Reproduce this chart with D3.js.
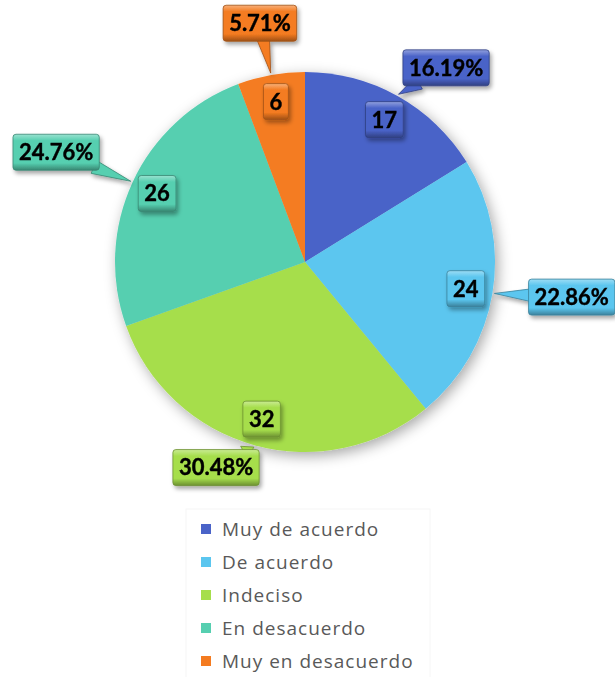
<!DOCTYPE html>
<html>
<head>
<meta charset="utf-8">
<script src="https://cdn.jsdelivr.net/npm/d3@7"></script>
<style>
  html, body { margin: 0; padding: 0; background: #fff; }
  svg { display: block; }
  .lbl { font-family: Lato, "Open Sans", sans-serif; font-weight: 700; font-size: 22px; fill: #000; stroke: #000; stroke-width: 0.4px; }
  .legend text { font-family: "Open Sans", sans-serif; font-size: 19px; fill: #595959; letter-spacing: 1px; }
</style>
</head>
<body>
<svg id="chart" width="615" height="677"></svg>
<script>
/* Pie chart with callout labels */

const categories = ['Muy de acuerdo', 'De acuerdo', 'Indeciso', 'En desacuerdo', 'Muy en desacuerdo'];
const counts = [17, 24, 32, 26, 6];
const colors = ['#4a63c8', '#5bc6ef', '#a6de4c', '#56cfb0', '#f47b20'];

// callout box placement: [angle in degrees, distance from centre]
const calloutPolar = [[36, 240], [97.5, 269], [203.4, 224], [293.8, 272], [349.3, 243]];

const width = 615, height = 677;
const cx = 305, cy = 262, radius = 190;
const total = d3.sum(counts);
const pct = d3.format('.2%');

const svg = d3.select('#chart');
const defs = svg.append('defs');

// soft shadow behind the pie
const pieShadow = defs.append('filter').attr('id', 'pie-shadow')
  .attr('x', '-20%').attr('y', '-20%').attr('width', '140%').attr('height', '140%');
pieShadow.append('feDropShadow').attr('dx', 3).attr('dy', 4).attr('stdDeviation', 7)
  .attr('flood-color', '#000').attr('flood-opacity', 0.35);

const boxShadow = defs.append('filter').attr('id', 'box-shadow')
  .attr('x', '-30%').attr('y', '-30%').attr('width', '160%').attr('height', '160%');
boxShadow.append('feDropShadow').attr('dx', 2).attr('dy', 3).attr('stdDeviation', 2)
  .attr('flood-color', '#000').attr('flood-opacity', 0.35);

// bevel gradient per colour
colors.forEach((c, i) => {
  const g = defs.append('linearGradient').attr('id', `bevel-${i}`)
    .attr('x1', 0).attr('y1', 0).attr('x2', 0).attr('y2', 1);
  g.append('stop').attr('offset', '0%').attr('stop-color', d3.interpolateRgb(c, '#fff')(0.4));
  g.append('stop').attr('offset', '18%').attr('stop-color', c);
  g.append('stop').attr('offset', '80%').attr('stop-color', c);
  g.append('stop').attr('offset', '100%').attr('stop-color', d3.interpolateRgb(c, '#000')(0.35));
});

const pie = d3.pie().sort(null).value(d => d)(counts);
const arc = d3.arc().innerRadius(0).outerRadius(radius);
const labelArc = d3.arc().innerRadius(163).outerRadius(163);

const g = svg.append('g').attr('transform', `translate(${cx},${cy})`);

g.append('g').attr('filter', 'url(#pie-shadow)')
  .selectAll('path')
  .data(pie)
  .join('path')
  .attr('d', arc)
  .attr('fill', (d, i) => colors[i]);

// helper: draw a bevelled label box centred at (x, y), optional tail to tip
function drawBox(parent, x, y, text, i, tip) {
  const grp = parent.append('g').attr('filter', 'url(#box-shadow)');
  const t = grp.append('text').attr('class', 'lbl')
    .attr('x', x).attr('y', y).attr('text-anchor', 'middle').attr('dy', '0.36em').text(text);
  const bb = t.node().getBBox();
  const hw = bb.width / 2 + 6, hh = 18;
  const stroke = d3.interpolateRgb(colors[i], '#000')(0.35);

  if (tip) {
    const dx = tip[0] - x, dy = tip[1] - y;
    const len = Math.hypot(dx, dy);
    const ux = dx / len, uy = dy / len;
    const s = Math.min(hw / Math.abs(ux || 1e-6), hh / Math.abs(uy || 1e-6)) - 6;
    const bx = x + ux * s, by = y + uy * s;
    const px = -uy * 7, py = ux * 7;
    grp.insert('path', 'text')
      .attr('d', `M${bx + px},${by + py}L${tip[0]},${tip[1]}L${bx - px},${by - py}Z`)
      .attr('fill', colors[i]).attr('stroke', stroke).attr('stroke-width', 0.8);
  }
  grp.insert('rect', 'text')
    .attr('x', x - hw).attr('y', y - hh).attr('width', hw * 2).attr('height', hh * 2)
    .attr('rx', 3)
    .attr('fill', `url(#bevel-${i})`).attr('stroke', stroke).attr('stroke-width', 0.8);
}

const labels = g.append('g');

pie.forEach((d, i) => {
  const mid = (d.startAngle + d.endAngle) / 2;
  // count label inside the slice
  const [lx, ly] = labelArc.centroid(d);
  drawBox(labels, lx, ly, counts[i], i, null);
  // percentage callout outside
  const [ang, r] = calloutPolar[i];
  const [bx, by] = d3.pointRadial(ang * Math.PI / 180, r);
  const tip = d3.pointRadial(mid, radius + 2);
  drawBox(labels, bx, by, pct(counts[i] / total), i, tip);
});

// legend
const legend = svg.append('g').attr('class', 'legend');
legend.append('rect')
  .attr('x', 186).attr('y', 509).attr('width', 244).attr('height', 175)
  .attr('fill', 'none').attr('stroke', '#f6f6f6');

const rowY = d3.scalePoint().domain(categories).range([529, 661]);

const rows = legend.selectAll('g.row')
  .data(categories)
  .join('g')
  .attr('class', 'row')
  .attr('transform', d => `translate(201,${rowY(d)})`);

rows.append('rect')
  .attr('x', 0).attr('y', -5).attr('width', 10).attr('height', 10)
  .attr('fill', (d, i) => colors[i]);

rows.append('text')
  .attr('x', 21).attr('dy', '0.35em')
  .text(d => d);
</script>
</body>
</html>
